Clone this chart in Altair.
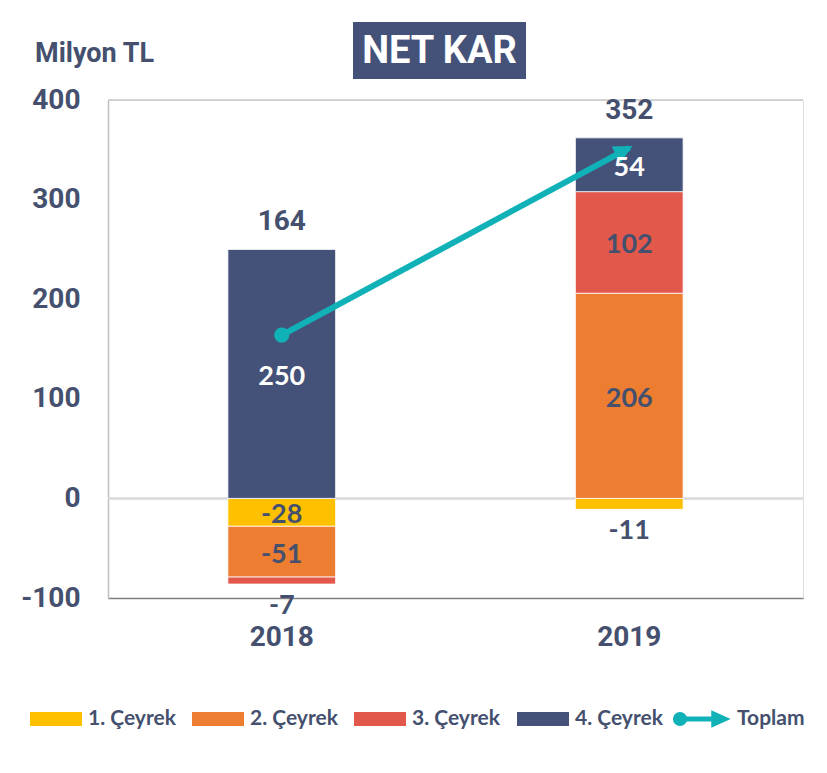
import altair as alt
import pandas as pd

years = ["2018", "2018", "2018", "2018", "2019", "2019", "2019", "2019"]
quarters = ["1. Çeyrek", "2. Çeyrek", "3. Çeyrek", "4. Çeyrek"] * 2
values = [-28, -51, -7, 250, -11, 206, 102, 54]

total_years = ["2018", "2019"]
totals = [164, 352]

quarter_names = ["1. Çeyrek", "2. Çeyrek", "3. Çeyrek", "4. Çeyrek"]
quarter_colors = ["#FFC000", "#ED7D31", "#E2584A", "#44527A"]
total_name = "Toplam"

NAVY = "#44527A"
TEXT = "#44506E"
TEAL = "#10B2B8"
NARROW = "Roboto, Liberation Sans, sans-serif"
HUMAN = "Lato, Open Sans, sans-serif"

df = pd.DataFrame({"year": years, "quarter": quarters, "value": values})
df["qi"] = df["quarter"].str[0].astype(int)
tdf = pd.DataFrame({"year": total_years, "total": totals})

W, H = 695, 498

xs = alt.X("year:N", title=None,
           scale=alt.Scale(paddingInner=0.69, paddingOuter=0.345),
           axis=alt.Axis(labelAngle=0, labelFont=NARROW, labelFontSize=28,
                         labelFontWeight="bold", labelColor=TEXT, labelPadding=25,
                         ticks=False, domainColor="#7F7F7F", domainWidth=1.5))
yscale = alt.Scale(domain=[-100, 400], nice=False)

base = alt.Chart(df).transform_stack(
    stack="value", groupby=["year"], sort=[alt.SortField("qi", order="ascending")],
    as_=["y0", "y1"]
).transform_calculate(mid="(datum.y0 + datum.y1) / 2", lbl="'' + datum.value")

bars = base.mark_bar(stroke="white", strokeWidth=0.8).encode(
    x=xs,
    y=alt.Y("y0:Q", scale=yscale, title=None,
            axis=alt.Axis(values=[-100, 0, 100, 200, 300, 400], grid=False, ticks=False,
                          labelExpr="'' + datum.value",
                          labelFont=NARROW, labelFontSize=28, labelFontWeight="bold",
                          labelColor=TEXT, labelPadding=28, domainColor="#BFBFBF",
                          domainWidth=1.5)),
    y2="y1:Q",
    color=alt.Color("quarter:N", scale=alt.Scale(domain=quarter_names, range=quarter_colors),
                    legend=None),
)

zero = alt.Chart(pd.DataFrame({"z": [0]})).mark_rule(color="#D9D9D9", strokeWidth=2.5).encode(
    y=alt.Y("z:Q", scale=yscale))
topline = alt.Chart(pd.DataFrame({"z": [400]})).mark_rule(color="#C8C8C8", strokeWidth=1.5).encode(
    y=alt.Y("z:Q", scale=yscale))

inner = base.transform_filter("abs(datum.value) >= 20").mark_text(
    font=HUMAN, fontSize=27, fontWeight="bold", baseline="middle", dy=3).encode(
    x=xs, y=alt.Y("mid:Q", scale=yscale), text="lbl:N",
    color=alt.condition("datum.qi == 4", alt.value("white"), alt.value(TEXT)))

outer = base.transform_filter("abs(datum.value) < 20").mark_text(
    font=HUMAN, fontSize=27, fontWeight="bold", baseline="top", dy=9, color=TEXT).encode(
    x=xs, y=alt.Y("y1:Q", scale=yscale), text="lbl:N")

tops = base.transform_filter("datum.value > 0").transform_aggregate(
    top="max(y1)", groupby=["year"]).transform_lookup(
    lookup="year", from_=alt.LookupData(tdf, "year", ["total"]))
total_lbl = tops.mark_text(font=NARROW, fontSize=28, fontWeight="bold", baseline="bottom",
                           dy=-13, color=TEXT).encode(
    x=xs, y=alt.Y("top:Q", scale=yscale), text="total:Q")

tline = alt.Chart(tdf).mark_line(color=TEAL, strokeWidth=6).encode(
    x=xs, y=alt.Y("total:Q", scale=yscale))
tstart = alt.Chart(tdf).transform_filter("datum.year == '2018'").mark_point(
    shape="circle", filled=True, opacity=1, size=230, color=TEAL).encode(
    x=xs, y=alt.Y("total:Q", scale=yscale))
ARROW = "M0.2,0 L-0.8,-0.5 L-0.8,0.5 Z"
tend = alt.Chart(tdf).transform_filter("datum.year == '2019'").mark_point(
    shape=ARROW, filled=True, opacity=1, size=1400, angle=332, color=TEAL).encode(
    x=xs, y=alt.Y("total:Q", scale=yscale))

# Title box and unit label
dummy = pd.DataFrame({"a": [0]})
title_box = alt.Chart(dummy).mark_rect(color=NAVY).encode(
    x=alt.value(245), x2=alt.value(418), y=alt.value(-78), y2=alt.value(-21))
title_txt = alt.Chart(dummy).mark_text(text="NET KAR", font=NARROW, fontSize=38,
                                        fontWeight="bold", color="white",
                                        align="center", baseline="middle").encode(
    x=alt.value(331.5), y=alt.value(-48))
unit_txt = alt.Chart(dummy).mark_text(text="Milyon TL", font=NARROW, fontSize=27,
                                       fontWeight="bold", color=TEXT,
                                       align="left", baseline="alphabetic").encode(
    x=alt.value(-73), y=alt.value(-38))

# Custom legend
layers = []
sw_x = [-78, 84, 246, 409]
ly = 619
for i, (name, col) in enumerate(zip(quarter_names, quarter_colors)):
    layers.append(alt.Chart(dummy).mark_rect(color=col).encode(
        x=alt.value(sw_x[i]), x2=alt.value(sw_x[i] + 52),
        y=alt.value(ly - 7), y2=alt.value(ly + 7)))
    layers.append(alt.Chart(dummy).mark_text(text=name, font=HUMAN, fontSize=21,
                                             fontWeight="bold", color=TEXT, align="left",
                                             baseline="middle").encode(
        x=alt.value(sw_x[i] + 58), y=alt.value(ly)))
layers.append(alt.Chart(dummy).mark_rule(color=TEAL, strokeWidth=5).encode(
    x=alt.value(572), x2=alt.value(608), y=alt.value(ly)))
layers.append(alt.Chart(dummy).mark_point(shape="circle", filled=True, opacity=1,
                                          size=200, color=TEAL).encode(
    x=alt.value(572), y=alt.value(ly)))
layers.append(alt.Chart(dummy).mark_point(shape="M1,0 L-1,-0.9 L-1,0.9 Z", filled=True,
                                          opacity=1, size=380, color=TEAL).encode(
    x=alt.value(613), y=alt.value(ly)))
layers.append(alt.Chart(dummy).mark_text(text=total_name, font=HUMAN, fontSize=21,
                                         fontWeight="bold", color=TEXT, align="left",
                                         baseline="middle").encode(
    x=alt.value(629), y=alt.value(ly)))

chart = alt.layer(zero, topline, bars, tline, tstart, tend, inner, outer, total_lbl,
                  title_box, title_txt, unit_txt, *layers).properties(
    width=W, height=H,
    autosize=alt.AutoSizeParams(type="none"),
    padding={"left": 100, "top": 92, "right": 16, "bottom": 160},
).configure_view(stroke=None).configure(background="white")

chart.save("out.html", embed_options={"renderer": "svg", "actions": False})
